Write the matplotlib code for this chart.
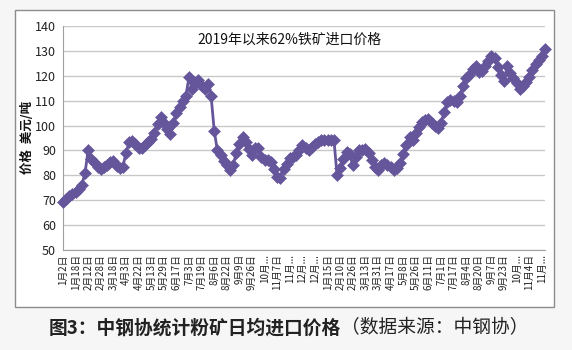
import matplotlib
matplotlib.use("Agg")
import matplotlib.pyplot as plt
from matplotlib.patches import Rectangle

plt.rcParams['font.family'] = ['Noto Sans CJK SC', 'DejaVu Sans']

# 62%铁矿日均进口价格（美元/吨），2019年1月起
prices = [
    69.2, 70.5, 71.8, 72.6, 73.5, 74.6, 76.2, 81.0, 90.3, 86.5,
    85.0, 83.2, 82.5, 83.5, 84.0, 85.2, 85.8, 83.8, 83.0, 83.5,
    89.0, 93.2, 93.8, 92.5, 90.8, 91.0, 92.3, 93.5, 94.6, 97.0,
    100.5, 103.5, 101.0, 98.5, 96.5, 101.0, 105.0, 107.5, 109.8, 112.0,
    119.5, 114.5, 117.0, 118.5, 116.0, 114.5, 116.5, 112.0, 98.0, 90.0,
    88.0, 85.8, 84.0, 82.0, 84.0, 89.0, 92.5, 95.5, 93.5, 90.5,
    88.0, 91.0, 91.0, 87.5, 86.0, 86.0, 85.5, 82.5, 79.5, 79.0,
    82.5, 84.5, 87.0, 87.5, 88.0, 90.0, 92.0, 91.0, 90.2, 91.5,
    92.6, 93.5, 94.0, 94.0, 94.0, 94.3, 94.3, 80.0, 83.0, 86.5,
    89.5, 88.5, 84.0, 87.5, 90.0, 90.2, 90.4, 89.0, 86.0, 83.5,
    82.0, 84.0, 85.0, 84.0, 83.2, 82.0, 83.0, 85.0, 88.5, 92.0,
    95.3, 94.0, 97.0, 99.5, 101.5, 102.3, 102.8, 101.2, 100.0, 99.0,
    101.0, 105.3, 109.5, 110.3, 110.0, 109.3, 111.8, 116.0, 119.0, 120.4,
    122.6, 124.0, 121.5, 122.0, 124.0, 126.0, 127.8, 127.0, 123.5, 120.5,
    118.0, 123.8, 121.3, 119.2, 117.2, 114.5, 115.8, 117.6, 119.5, 122.3,
    124.8, 126.5, 128.0, 130.7,
]

date_labels = [
    '1月2日', '1月18日', '2月12日', '2月28日', '3月18日', '4月3日', '4月22日',
    '5月13日', '5月29日', '6月17日', '7月3日', '7月19日', '8月6日', '8月22日',
    '9月9日', '9月26日', '10月...', '11月7日', '11月...', '12月...', '12月...',
    '1月15日', '2月10日', '2月26日', '3月13日', '3月31日', '4月17日', '5月8日',
    '5月26日', '6月11日', '7月1日', '7月17日', '8月4日', '8月20日', '9月7日',
    '9月23日', '10月...', '11月4日', '11月...',
]
label_step = 4

fig = plt.figure(figsize=(5.72, 3.5), dpi=100, facecolor='#f6f6f6')

# 图表外框
fig.add_artist(Rectangle((15 / 572, 1 - 307 / 350), 539 / 572, 297 / 350,
                         transform=fig.transFigure, facecolor='white',
                         edgecolor='#8c8c8c', linewidth=1.0, zorder=0))

ax = fig.add_axes([63 / 572, 1 - 250 / 350, 482 / 572, 224 / 350])
ax.set_facecolor('none')

x = list(range(len(prices)))
ax.plot(x, prices, color='#65559a', linewidth=2.0, marker='D',
        markersize=6, markeredgewidth=0.4, markeredgecolor='#65559a',
        clip_on=False, zorder=3)

ax.set_xlim(0, len(prices) - 1)
ax.set_ylim(50, 140)
ax.set_yticks(range(50, 141, 10))
ax.yaxis.grid(True, color='#c8c8c8', linewidth=1.0)
ax.set_axisbelow(True)

ticks = list(range(0, len(date_labels) * label_step, label_step))
ax.set_xticks(ticks)
ax.set_xticklabels(date_labels, rotation=90, fontsize=7)
ax.tick_params(axis='both', length=0, colors='#222222')
ax.tick_params(axis='y', labelsize=9, pad=5)
ax.tick_params(axis='x', pad=3)

for side in ['top', 'right']:
    ax.spines[side].set_visible(False)
ax.spines['left'].set_color('#a0a0a0')
ax.spines['bottom'].set_color('#a0a0a0')

fig.text(290 / 572, 1 - 40 / 350, '2019年以来62%铁矿进口价格', ha='center',
         va='center', fontsize=10, color='#111111')
fig.text(27 / 572, 1 - 137 / 350, '价格  美元/吨', rotation=90, ha='center',
         va='center', fontsize=9, fontweight='bold', color='#111111')

# 图下方说明文字
cap1 = fig.text(49 / 572, 1 - 328 / 350, '图3：中钢协统计粉矿日均进口价格',
                ha='left', va='center', fontsize=13.5, fontweight='bold',
                color='#222222')
fig.canvas.draw()
bb = cap1.get_window_extent()
fig.text(bb.x1 / fig.bbox.width, 1 - 328 / 350, '（数据来源：中钢协）',
         ha='left', va='center', fontsize=13.5, color='#222222')

fig.savefig('out.png', dpi=100, facecolor=fig.get_facecolor())
